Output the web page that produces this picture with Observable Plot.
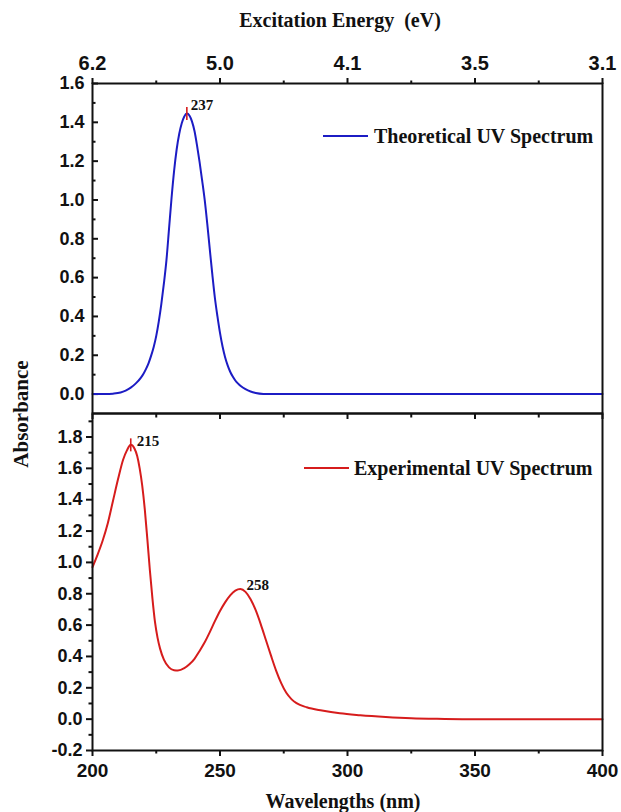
<!DOCTYPE html>
<html>
<head>
<meta charset="utf-8">
<script src="https://cdn.jsdelivr.net/npm/d3@7"></script>
<script src="https://cdn.jsdelivr.net/npm/@observablehq/plot@0.6"></script>
<style>
  body { margin: 0; background: #fff; }
  #chart { position: relative; width: 621px; height: 812px; overflow: hidden; background: #fff; }
  #chart svg { position: absolute; left: 0; overflow: visible; background: transparent; }
</style>
</head>
<body>
<div id="chart"></div>
<script>
// Computed (TD-DFT) absorption spectrum
const theoWavelength = [200, 205, 208, 211, 213, 215, 217, 219, 220, 221, 222, 223, 224, 225, 226, 227, 228, 229, 230, 231, 232, 233, 234, 235, 236, 237, 238, 239, 240, 241, 242, 243, 244, 245, 246, 247, 248, 249, 250, 251, 252, 253, 254, 255, 256, 257, 258, 260, 262, 264, 267, 270, 300, 350, 400];
const theoAbsorbance = [0.000, 0.000, 0.002, 0.008, 0.018, 0.033, 0.055, 0.085, 0.105, 0.130, 0.160, 0.198, 0.243, 0.300, 0.375, 0.465, 0.570, 0.690, 0.850, 1.010, 1.150, 1.260, 1.340, 1.395, 1.430, 1.445, 1.435, 1.405, 1.355, 1.280, 1.195, 1.100, 1.000, 0.878, 0.745, 0.615, 0.495, 0.400, 0.315, 0.245, 0.190, 0.148, 0.115, 0.090, 0.070, 0.055, 0.043, 0.025, 0.013, 0.006, 0.001, 0.000, 0.000, 0.000, 0.000];

// Measured absorption spectrum
const expWavelength = [200, 202, 204, 206, 208, 210, 212, 213.5, 215, 216.5, 217.5, 218.5, 219.5, 220.5, 221.5, 222.5, 223.5, 224.5, 225.5, 226.5, 228, 230, 232, 233.5, 236, 238, 240, 242, 244, 246, 248, 250, 252, 254, 256, 258, 260, 262, 264, 266, 268, 270, 272, 274, 276, 278, 280, 284, 290, 297, 305, 315, 325, 335, 345, 400];
const expAbsorbance = [0.97, 1.05, 1.14, 1.25, 1.39, 1.53, 1.655, 1.715, 1.75, 1.725, 1.68, 1.60, 1.49, 1.34, 1.15, 0.95, 0.77, 0.62, 0.52, 0.45, 0.38, 0.33, 0.312, 0.31, 0.325, 0.35, 0.385, 0.435, 0.49, 0.555, 0.625, 0.69, 0.745, 0.79, 0.82, 0.83, 0.812, 0.765, 0.695, 0.605, 0.505, 0.405, 0.31, 0.23, 0.168, 0.128, 0.102, 0.076, 0.055, 0.037, 0.025, 0.014, 0.006, 0.002, 0.0, 0.0];

// Labelled band maxima
const theoPeakWavelength = [237];
const theoPeakAbsorbance = [1.445];
const expPeakWavelength = [215, 258];
const expPeakAbsorbance = [1.75, 0.83];
const expPeakMarked = [true, false];

// Axis ticks
const wavelengthTicks = [200, 250, 300, 350, 400];
const wavelengthMinorTicks = [225, 275, 325, 375];
const energyTickLabels = ["6.2", "5.0", "4.1", "3.5", "3.1"];
const topAbsTicks = [0, 0.2, 0.4, 0.6, 0.8, 1.0, 1.2, 1.4, 1.6];
const topAbsMinorTicks = [0.1, 0.3, 0.5, 0.7, 0.9, 1.1, 1.3, 1.5];
const bottomAbsTicks = [-0.2, 0, 0.2, 0.4, 0.6, 0.8, 1.0, 1.2, 1.4, 1.6, 1.8];
const bottomAbsMinorTicks = [-0.1, 0.1, 0.3, 0.5, 0.7, 0.9, 1.1, 1.3, 1.5, 1.7, 1.9];

const BLUE = "#1c1cc4";
const RED = "#d61c1c";
const INK = "#111";
const SANS = '"Liberation Sans", Arial, Helvetica, sans-serif';
const SERIF = '"Liberation Serif", "Times New Roman", Times, serif';

const theo = theoWavelength.map((x, i) => ({x, y: theoAbsorbance[i]}));
const exp = expWavelength.map((x, i) => ({x, y: expAbsorbance[i]}));
const theoPeaks = theoPeakWavelength.map((x, i) => ({x, y: theoPeakAbsorbance[i]}));
const expPeaks = expPeakWavelength.map((x, i) => ({x, y: expPeakAbsorbance[i], marked: expPeakMarked[i]}));

// short vertical bar centred on a point, used to flag a band maximum
const vbar = {draw(context, size) { const h = Math.sqrt(size / Math.PI); context.moveTo(0, -h); context.lineTo(0, h); }};

const blank = () => "";
const common = {
  width: 621,
  marginLeft: 92,
  marginRight: 19,
  x: {domain: [200, 400], label: null},
  style: {fontFamily: SANS, fontWeight: "bold", fontSize: "18px", color: INK, background: "transparent", overflow: "visible"}
};

const topPlot = Plot.plot({
  ...common,
  height: 413,
  marginTop: 83,
  marginBottom: 0,
  y: {domain: [-0.1, 1.6], label: null},
  marks: [
    Plot.axisX(wavelengthTicks, {anchor: "top", tickSize: 6, tickPadding: 8, strokeWidth: 2, fontSize: 20, label: null,
      tickFormat: d => energyTickLabels[wavelengthTicks.indexOf(d)]}),
    Plot.axisX(wavelengthMinorTicks, {anchor: "top", tickSize: 3.5, strokeWidth: 2, tickFormat: blank, label: null}),
    Plot.axisY(topAbsTicks, {anchor: "left", tickSize: -6, strokeWidth: 2, tickFormat: blank, label: null}),
    Plot.axisY(topAbsMinorTicks, {anchor: "left", tickSize: -3.5, strokeWidth: 2, tickFormat: blank, label: null}),
    Plot.axisY(topAbsTicks, {anchor: "left", tickSize: 0, tickPadding: 8, fontSize: 18, label: null, tickFormat: d => d.toFixed(1)}),
    Plot.line(theo, {x: "x", y: "y", stroke: BLUE, strokeWidth: 2, curve: "monotone-x"}),
    Plot.dot(theoPeaks, {x: "x", y: "y", r: 6.5, symbol: vbar, stroke: RED, strokeWidth: 1.6, fill: "none"}),
    Plot.text(theoPeaks, {x: "x", y: "y", text: d => String(d.x), dx: 4, dy: -8, textAnchor: "start",
      fontFamily: SERIF, fontWeight: "bold", fontSize: 15, fill: INK}),
    Plot.frame({stroke: INK, strokeWidth: 2})
  ]
});

const bottomPlot = Plot.plot({
  ...common,
  height: 399,
  marginTop: 0,
  marginBottom: 62,
  y: {domain: [-0.2, 1.95], label: null},
  marks: [
    Plot.axisX(wavelengthTicks, {anchor: "bottom", tickSize: 6, tickPadding: 7, strokeWidth: 2, fontSize: 19, label: null,
      tickFormat: d => String(d)}),
    Plot.axisX(wavelengthMinorTicks, {anchor: "bottom", tickSize: 3.5, strokeWidth: 2, tickFormat: blank, label: null}),
    Plot.axisX(wavelengthTicks, {anchor: "top", tickSize: -5, strokeWidth: 2, tickFormat: blank, label: null}),
    Plot.axisX(wavelengthMinorTicks, {anchor: "top", tickSize: -3.5, strokeWidth: 2, tickFormat: blank, label: null}),
    Plot.axisY(bottomAbsTicks, {anchor: "left", tickSize: 6, tickPadding: 4, strokeWidth: 2, fontSize: 18, label: null,
      tickFormat: d => d.toFixed(1)}),
    Plot.axisY(bottomAbsMinorTicks, {anchor: "left", tickSize: 3.5, strokeWidth: 2, tickFormat: blank, label: null}),
    Plot.line(exp, {x: "x", y: "y", stroke: RED, strokeWidth: 2, curve: "monotone-x"}),
    Plot.dot(expPeaks.filter(d => d.marked), {x: "x", y: "y", r: 6.5, symbol: vbar, stroke: RED, strokeWidth: 1.6, fill: "none"}),
    Plot.text(expPeaks, {x: "x", y: "y", text: d => String(d.x), dx: 6, dy: -4, textAnchor: "start",
      fontFamily: SERIF, fontWeight: "bold", fontSize: 15, fill: INK}),
    Plot.frame({stroke: INK, strokeWidth: 2})
  ]
});

const chart = document.getElementById("chart");
topPlot.style.top = "0px";
bottomPlot.style.top = "413px";
chart.appendChild(topPlot);
chart.appendChild(bottomPlot);

// Axis titles and legend keys
const overlay = d3.select(chart).append("svg")
  .attr("width", 621).attr("height", 812)
  .style("top", "0px").style("pointer-events", "none")
  .attr("font-family", SERIF).attr("font-weight", "bold").attr("fill", INK);

overlay.append("text").attr("x", 340).attr("y", 27).attr("text-anchor", "middle")
  .attr("font-size", 20).style("white-space", "pre").text("Excitation Energy  (eV)");
overlay.append("text").attr("x", 343).attr("y", 808).attr("text-anchor", "middle")
  .attr("font-size", 20).text("Wavelengths (nm)");
overlay.append("text").attr("transform", "translate(28,414) rotate(-90)").attr("text-anchor", "middle")
  .attr("font-size", 21).text("Absorbance");

const legend = [
  {label: "Theoretical UV Spectrum", color: BLUE, x0: 323, x1: 368, tx: 374, y: 136},
  {label: "Experimental UV Spectrum", color: RED, x0: 304, x1: 349, tx: 354, y: 468}
];
for (const d of legend) {
  overlay.append("line").attr("x1", d.x0).attr("x2", d.x1).attr("y1", d.y).attr("y2", d.y)
    .attr("stroke", d.color).attr("stroke-width", 2);
  overlay.append("text").attr("x", d.tx).attr("y", d.y + 6.5).attr("font-size", 20).text(d.label);
}
</script>
</body>
</html>
